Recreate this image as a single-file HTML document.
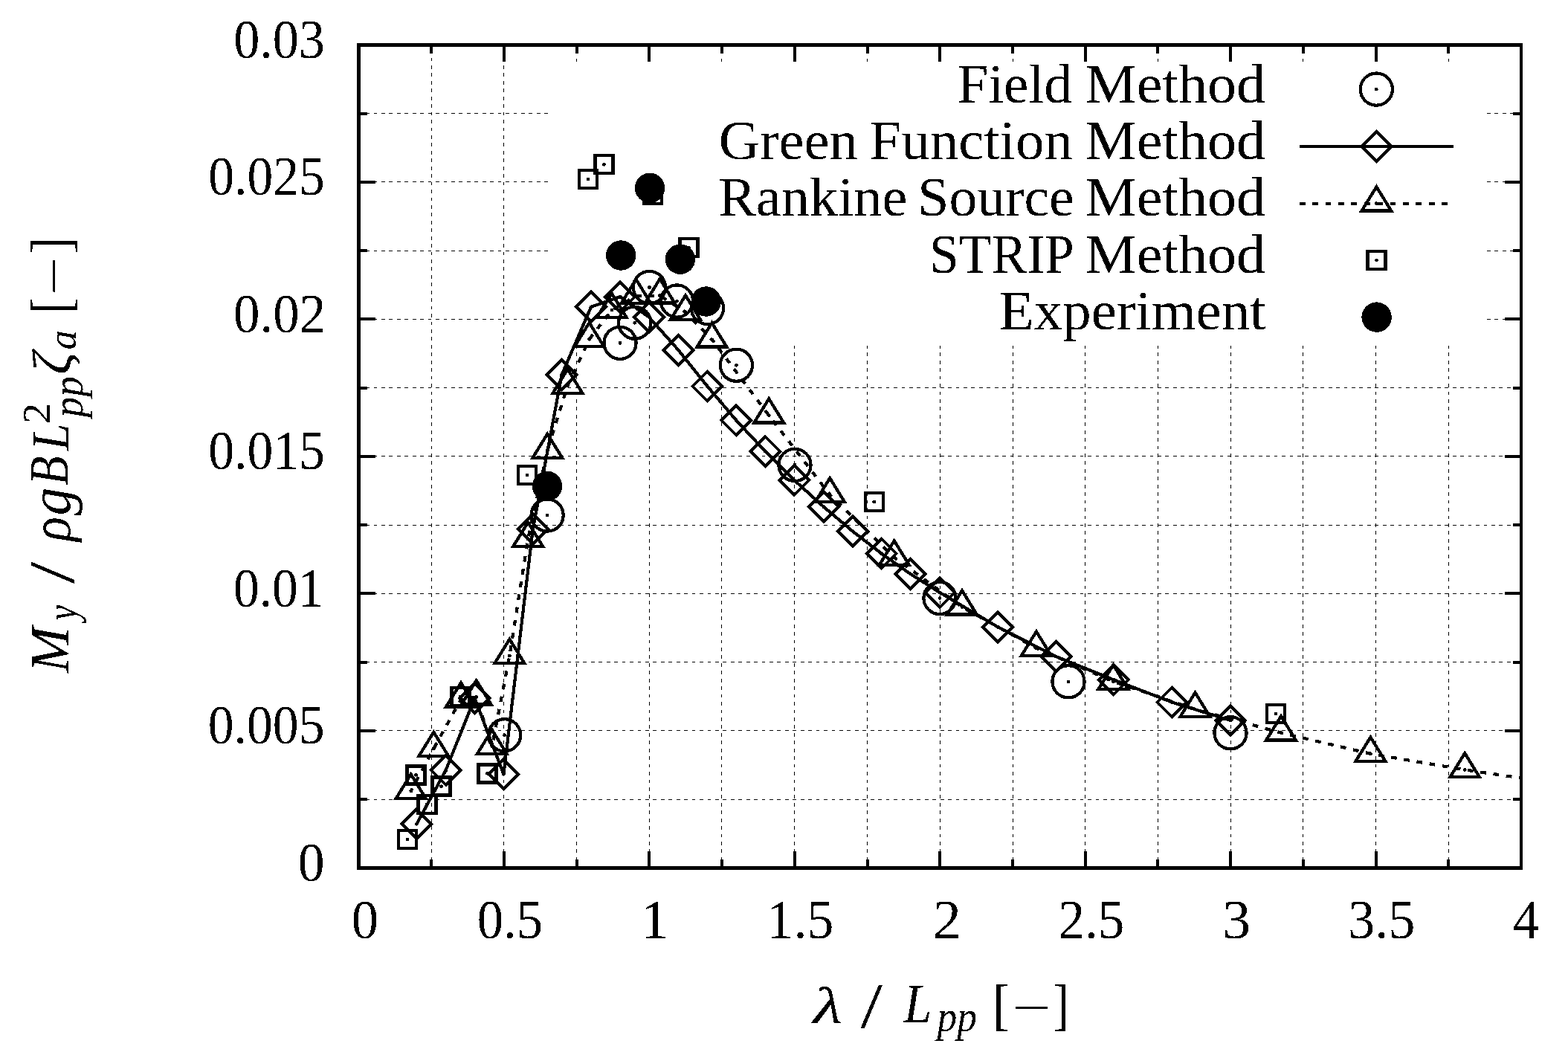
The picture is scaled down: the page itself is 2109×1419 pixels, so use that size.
<!DOCTYPE html><html><head><meta charset="utf-8"><title>Pitch moment RAO</title><style>html,body{margin:0;padding:0;background:#fff;overflow:hidden}svg{display:block}.s{fill:none;stroke:#000;stroke-width:4.2;stroke-miterlimit:10}svg circle,svg path.s,svg rect.s{shape-rendering:crispEdges}.t{font-family:"Liberation Serif",serif;fill:#000}</style></head><body>
<svg width="2109" height="1419" viewBox="0 0 2109 1419">
<rect width="2109" height="1419" fill="#fff"/>
<path d="M580.5 1167.3V60.4M677.5 1167.3V60.4M775.5 1167.3V465M873.5 1167.3V465M970.5 1167.3V465M1068.5 1167.3V465M1166.5 1167.3V465M1264.5 1167.3V465M1362.5 1167.3V465M1459.5 1167.3V465M1557.5 1167.3V465M1655.5 1167.3V465M1752.5 1167.3V465M1850.5 1167.3V465M1948.5 1167.3V465" stroke="#000" stroke-width="1" shape-rendering="crispEdges" stroke-dasharray="4.8 5.64" fill="none" stroke-dashoffset="0.84"/>
<path d="M775.5 83.3V77.9M873.5 83.3V77.9M970.5 83.3V77.9M1068.5 83.3V77.9M1166.5 83.3V77.9M1264.5 83.3V77.9M1362.5 83.3V77.9M1459.5 83.3V77.9M1557.5 83.3V77.9M1655.5 83.3V77.9M1752.5 83.3V77.9M1850.5 83.3V77.9M1948.5 83.3V77.9" stroke="#000" stroke-width="1" shape-rendering="crispEdges" stroke-dasharray="4.8 5.64" fill="none"/>
<path d="M482.4 1075.5H2046.1M482.4 982.5H2046.1M482.4 890.5H2046.1M482.4 798.5H2046.1M482.4 706.5H2046.1M482.4 613.5H2046.1M482.4 521.5H2046.1M482.4 429.5H737M482.4 337.5H737M482.4 244.5H737M482.4 152.5H737" stroke="#000" stroke-width="1" shape-rendering="crispEdges" stroke-dasharray="4.8 5.64" fill="none" stroke-dashoffset="0.69"/>
<path d="M2000 429.5H2046.1M2000 337.5H2046.1M2000 244.5H2046.1M2000 152.5H2046.1" stroke="#000" stroke-width="1" shape-rendering="crispEdges" stroke-dasharray="4.8 5.64" fill="none"/>
<path d="M480 58H2048V63H480ZM480 1165H2048V1170H480ZM480 58H485V1170H480ZM2044 58H2048V1170H2044ZM578 1156H582V1165H578ZM578 63H582V72H578ZM676 1145H680V1165H676ZM676 63H680V83H676ZM774 1156H778V1165H774ZM774 63H778V72H774ZM871 1145H875V1165H871ZM871 63H875V83H871ZM969 1156H973V1165H969ZM969 63H973V72H969ZM1067 1145H1071V1165H1067ZM1067 63H1071V83H1067ZM1165 1156H1169V1165H1165ZM1165 63H1169V72H1165ZM1262 1145H1266V1165H1262ZM1262 63H1266V83H1262ZM1360 1156H1364V1165H1360ZM1360 63H1364V72H1360ZM1458 1145H1462V1165H1458ZM1458 63H1462V83H1458ZM1555 1156H1559V1165H1555ZM1555 63H1559V72H1555ZM1653 1145H1657V1165H1653ZM1653 63H1657V83H1653ZM1751 1156H1755V1165H1751ZM1751 63H1755V72H1751ZM1849 1145H1853V1165H1849ZM1849 63H1853V83H1849ZM1946 1156H1950V1165H1946ZM1946 63H1950V72H1946ZM485 1073H494V1077H485ZM2035 1073H2044V1077H2035ZM485 981H505V985H485ZM2024 981H2044V985H2024ZM485 889H494V893H485ZM2035 889H2044V893H2035ZM485 796H505V800H485ZM2024 796H2044V800H2024ZM485 704H494V708H485ZM2035 704H2044V708H2035ZM485 612H505V616H485ZM2024 612H2044V616H2024ZM485 520H494V524H485ZM2035 520H2044V524H2035ZM485 427H505V431H485ZM2024 427H2044V431H2024ZM485 335H494V339H485ZM2035 335H2044V339H2035ZM485 243H505V247H485ZM2024 243H2044V247H2024ZM485 151H494V155H485ZM2035 151H2044V155H2035Z" fill="#000" shape-rendering="crispEdges"/>
<g>
<circle class="s" cx="678.6" cy="988.8" r="21.6"/><circle cx="678.6" cy="988.8" r="2.4"/>
<circle class="s" cx="736.1" cy="693" r="21.6"/><circle cx="736.1" cy="693" r="2.4"/>
<circle class="s" cx="834" cy="461.3" r="21.6"/><circle cx="834" cy="461.3" r="2.4"/>
<circle class="s" cx="853.7" cy="434.2" r="21.6"/><circle cx="853.7" cy="434.2" r="2.4"/>
<circle class="s" cx="873.5" cy="386.5" r="21.6"/><circle cx="873.5" cy="386.5" r="2.4"/>
<circle class="s" cx="910.5" cy="405" r="21.6"/><circle cx="910.5" cy="405" r="2.4"/>
<circle class="s" cx="951.5" cy="414.5" r="21.6"/><circle cx="951.5" cy="414.5" r="2.4"/>
<circle class="s" cx="990.4" cy="491.2" r="21.6"/><circle cx="990.4" cy="491.2" r="2.4"/>
<circle class="s" cx="1069" cy="625.4" r="21.6"/><circle cx="1069" cy="625.4" r="2.4"/>
<circle class="s" cx="1264" cy="804.5" r="21.6"/><circle cx="1264" cy="804.5" r="2.4"/>
<circle class="s" cx="1437" cy="916.8" r="21.6"/><circle cx="1437" cy="916.8" r="2.4"/>
<circle class="s" cx="1655" cy="985.8" r="21.6"/><circle cx="1655" cy="985.8" r="2.4"/>
<path class="s" stroke-linejoin="round" d="M560.4 1108.4 L599.7 1035.8 L638.5 939 L677.4 1041.4 L716.8 711.5 L755.6 504 L795 412.8 L833.9 399.2 L872.9 426.5 L912.5 470.9 L951.4 519.5 L990.2 565.3 L1029.3 607.2 L1068.3 645.8 L1107.9 681.7 L1146.7 714.5 L1185.6 744.5 L1224.6 772 L1264.1 797 L1342.2 843.4 L1420.4 883.1 L1497.8 914.3 L1576.4 944.5 L1655 969"/>
<path class="s" d="M560.4 1088.5L540.5 1108.4L560.4 1128.3L580.3 1108.4Z"/><circle cx="560.4" cy="1108.4" r="2.4"/>
<path class="s" d="M599.7 1015.9L579.8 1035.8L599.7 1055.7L619.6 1035.8Z"/><circle cx="599.7" cy="1035.8" r="2.4"/>
<path class="s" d="M638.5 919.1L618.6 939L638.5 958.9L658.4 939Z"/><circle cx="638.5" cy="939" r="2.4"/>
<path class="s" d="M677.4 1021.5L657.5 1041.4L677.4 1061.3L697.3 1041.4Z"/><circle cx="677.4" cy="1041.4" r="2.4"/>
<path class="s" d="M716.8 691.6L696.9 711.5L716.8 731.4L736.7 711.5Z"/><circle cx="716.8" cy="711.5" r="2.4"/>
<path class="s" d="M755.6 484.1L735.7 504L755.6 523.9L775.5 504Z"/><circle cx="755.6" cy="504" r="2.4"/>
<path class="s" d="M795 392.9L775.1 412.8L795 432.7L814.9 412.8Z"/><circle cx="795" cy="412.8" r="2.4"/>
<path class="s" d="M833.9 379.3L814 399.2L833.9 419.1L853.8 399.2Z"/><circle cx="833.9" cy="399.2" r="2.4"/>
<path class="s" d="M872.9 406.6L853 426.5L872.9 446.4L892.8 426.5Z"/><circle cx="872.9" cy="426.5" r="2.4"/>
<path class="s" d="M912.5 451L892.6 470.9L912.5 490.8L932.4 470.9Z"/><circle cx="912.5" cy="470.9" r="2.4"/>
<path class="s" d="M951.4 499.6L931.5 519.5L951.4 539.4L971.3 519.5Z"/><circle cx="951.4" cy="519.5" r="2.4"/>
<path class="s" d="M990.2 545.4L970.3 565.3L990.2 585.2L1010.1 565.3Z"/><circle cx="990.2" cy="565.3" r="2.4"/>
<path class="s" d="M1029.3 587.3L1009.4 607.2L1029.3 627.1L1049.2 607.2Z"/><circle cx="1029.3" cy="607.2" r="2.4"/>
<path class="s" d="M1068.3 625.9L1048.4 645.8L1068.3 665.7L1088.2 645.8Z"/><circle cx="1068.3" cy="645.8" r="2.4"/>
<path class="s" d="M1107.9 661.8L1088 681.7L1107.9 701.6L1127.8 681.7Z"/><circle cx="1107.9" cy="681.7" r="2.4"/>
<path class="s" d="M1146.7 694.6L1126.8 714.5L1146.7 734.4L1166.6 714.5Z"/><circle cx="1146.7" cy="714.5" r="2.4"/>
<path class="s" d="M1185.6 724.6L1165.7 744.5L1185.6 764.4L1205.5 744.5Z"/><circle cx="1185.6" cy="744.5" r="2.4"/>
<path class="s" d="M1224.6 752.1L1204.7 772L1224.6 791.9L1244.5 772Z"/><circle cx="1224.6" cy="772" r="2.4"/>
<path class="s" d="M1264.1 777.1L1244.2 797L1264.1 816.9L1284 797Z"/><circle cx="1264.1" cy="797" r="2.4"/>
<path class="s" d="M1342.2 823.5L1322.3 843.4L1342.2 863.3L1362.1 843.4Z"/><circle cx="1342.2" cy="843.4" r="2.4"/>
<path class="s" d="M1420.4 863.2L1400.5 883.1L1420.4 903L1440.3 883.1Z"/><circle cx="1420.4" cy="883.1" r="2.4"/>
<path class="s" d="M1497.8 894.4L1477.9 914.3L1497.8 934.2L1517.7 914.3Z"/><circle cx="1497.8" cy="914.3" r="2.4"/>
<path class="s" d="M1576.4 924.6L1556.5 944.5L1576.4 964.4L1596.3 944.5Z"/><circle cx="1576.4" cy="944.5" r="2.4"/>
<path class="s" d="M1655 949.1L1635.1 969L1655 988.9L1674.9 969Z"/><circle cx="1655" cy="969" r="2.4"/>
<path class="s" stroke-linejoin="round" stroke-dasharray="7.7 9.7" stroke-dashoffset="3.8" d="M552.7 1063.8 L583.3 1007 L620 940.6 L640.7 937.5 L661.8 1004 L685.4 882 L710.2 724.9 L736.3 605.9 L763.5 518.9 L792.6 456.4 L822.8 417 L855.5 398 L887.5 397.5 L922 419.7 L957.5 456.6 L1034.2 558.6 L1116.2 665.4 L1202.8 749.7 L1294 816.6 L1393.9 871.7 L1497.4 916.7 L1607.5 953.9 L1723 985.6 L1843.4 1013.8 L1970.2 1035.4 L2046.1 1046.5"/>
<path class="s" d="M552.7 1041.51L532.8 1073.75L572.6 1073.75Z"/><circle cx="552.7" cy="1063.8" r="2.4"/>
<path class="s" d="M583.3 984.71L563.4 1016.95L603.2 1016.95Z"/><circle cx="583.3" cy="1007" r="2.4"/>
<path class="s" d="M620 918.31L600.1 950.55L639.9 950.55Z"/><circle cx="620" cy="940.6" r="2.4"/>
<path class="s" d="M640.7 915.21L620.8 947.45L660.6 947.45Z"/><circle cx="640.7" cy="937.5" r="2.4"/>
<path class="s" d="M661.8 981.71L641.9 1013.95L681.7 1013.95Z"/><circle cx="661.8" cy="1004" r="2.4"/>
<path class="s" d="M685.4 859.71L665.5 891.95L705.3 891.95Z"/><circle cx="685.4" cy="882" r="2.4"/>
<path class="s" d="M710.2 702.61L690.3 734.85L730.1 734.85Z"/><circle cx="710.2" cy="724.9" r="2.4"/>
<path class="s" d="M736.3 583.61L716.4 615.85L756.2 615.85Z"/><circle cx="736.3" cy="605.9" r="2.4"/>
<path class="s" d="M763.5 496.61L743.6 528.85L783.4 528.85Z"/><circle cx="763.5" cy="518.9" r="2.4"/>
<path class="s" d="M792.6 434.11L772.7 466.35L812.5 466.35Z"/><circle cx="792.6" cy="456.4" r="2.4"/>
<path class="s" d="M822.8 394.71L802.9 426.95L842.7 426.95Z"/><circle cx="822.8" cy="417" r="2.4"/>
<path class="s" d="M855.5 375.71L835.6 407.95L875.4 407.95Z"/><circle cx="855.5" cy="398" r="2.4"/>
<path class="s" d="M887.5 375.21L867.6 407.45L907.4 407.45Z"/><circle cx="887.5" cy="397.5" r="2.4"/>
<path class="s" d="M922 397.41L902.1 429.65L941.9 429.65Z"/><circle cx="922" cy="419.7" r="2.4"/>
<path class="s" d="M957.5 434.31L937.6 466.55L977.4 466.55Z"/><circle cx="957.5" cy="456.6" r="2.4"/>
<path class="s" d="M1034.2 536.31L1014.3 568.55L1054.1 568.55Z"/><circle cx="1034.2" cy="558.6" r="2.4"/>
<path class="s" d="M1116.2 643.11L1096.3 675.35L1136.1 675.35Z"/><circle cx="1116.2" cy="665.4" r="2.4"/>
<path class="s" d="M1202.8 727.41L1182.9 759.65L1222.7 759.65Z"/><circle cx="1202.8" cy="749.7" r="2.4"/>
<path class="s" d="M1294 794.31L1274.1 826.55L1313.9 826.55Z"/><circle cx="1294" cy="816.6" r="2.4"/>
<path class="s" d="M1393.9 849.41L1374 881.65L1413.8 881.65Z"/><circle cx="1393.9" cy="871.7" r="2.4"/>
<path class="s" d="M1497.4 894.41L1477.5 926.65L1517.3 926.65Z"/><circle cx="1497.4" cy="916.7" r="2.4"/>
<path class="s" d="M1607.5 931.61L1587.6 963.85L1627.4 963.85Z"/><circle cx="1607.5" cy="953.9" r="2.4"/>
<path class="s" d="M1723 963.31L1703.1 995.55L1742.9 995.55Z"/><circle cx="1723" cy="985.6" r="2.4"/>
<path class="s" d="M1843.4 991.51L1823.5 1023.75L1863.3 1023.75Z"/><circle cx="1843.4" cy="1013.8" r="2.4"/>
<path class="s" d="M1970.2 1013.11L1950.3 1045.35L1990.1 1045.35Z"/><circle cx="1970.2" cy="1035.4" r="2.4"/>
<rect class="s" x="536" y="1117" width="24" height="24"/><circle cx="548" cy="1129" r="2.4"/>
<rect class="s" x="562.4" y="1070" width="24" height="24"/><circle cx="574.4" cy="1082" r="2.4"/>
<rect class="s" x="581.5" y="1045.6" width="24" height="24"/><circle cx="593.5" cy="1057.6" r="2.4"/>
<rect class="s" x="547.5" y="1030.4" width="24" height="24"/><circle cx="559.5" cy="1042.4" r="2.4"/>
<rect class="s" x="643.5" y="1028.4" width="24" height="24"/><circle cx="655.5" cy="1040.4" r="2.4"/>
<rect class="s" x="607.4" y="925" width="24" height="24"/><circle cx="619.4" cy="937" r="2.4"/>
<rect class="s" x="697" y="627" width="24" height="24"/><circle cx="709" cy="639" r="2.4"/>
<rect class="s" x="778.9" y="228.9" width="24" height="24"/><circle cx="790.9" cy="240.9" r="2.4"/>
<rect class="s" x="800.4" y="209.3" width="24" height="24"/><circle cx="812.4" cy="221.3" r="2.4"/>
<rect class="s" x="865.9" y="249.8" width="24" height="24"/><circle cx="877.9" cy="261.8" r="2.4"/>
<rect class="s" x="914.5" y="320.9" width="24" height="24"/><circle cx="926.5" cy="332.9" r="2.4"/>
<rect class="s" x="1163.7" y="663" width="24" height="24"/><circle cx="1175.7" cy="675" r="2.4"/>
<rect class="s" x="1704" y="948" width="24" height="24"/><circle cx="1716" cy="960" r="2.4"/>
<circle cx="736" cy="653.8" r="20.2"/>
<circle cx="835.2" cy="343.5" r="20.2"/>
<circle cx="874.1" cy="252.8" r="20.2"/>
<circle cx="914.9" cy="348.7" r="20.2"/>
<circle cx="949.7" cy="405.5" r="20.2"/>
</g>
<circle class="s" cx="1851.3" cy="120.1" r="21.6"/><circle cx="1851.3" cy="120.1" r="2.4"/>
<path class="s" d="M1747.8 196.9H1954.8"/>
<path class="s" d="M1851.4 177L1831.5 196.9L1851.4 216.8L1871.3 196.9Z"/><circle cx="1851.4" cy="196.9" r="2.4"/>
<path class="s" stroke-dasharray="7.7 9.7" d="M1747.8 273.6H1952"/>
<path class="s" d="M1851.4 251.31L1831.5 283.55L1871.3 283.55Z"/><circle cx="1851.4" cy="273.6" r="2.4"/>
<rect class="s" x="1839.5" y="338" width="24" height="24"/><circle cx="1851.5" cy="350" r="2.4"/>
<circle cx="1851.6" cy="426.6" r="20.2"/>
<defs><filter id="bw" color-interpolation-filters="sRGB"><feComponentTransfer><feFuncA type="discrete" tableValues="0 1"/></feComponentTransfer></filter></defs>
<g filter="url(#bw)">
<text class="t" transform="translate(1287.54 137.50) scale(1.0239 1.000)" font-size="73.30">Field</text>
<text class="t" transform="translate(1459.25 137.50) scale(1.0652 1.000)" font-size="73.30">Method</text>
<text class="t" transform="translate(966.76 213.80) scale(1.0455 1.000)" font-size="73.30">Green</text>
<text class="t" transform="translate(1169.49 213.80) scale(1.0489 1.000)" font-size="73.30">Function</text>
<text class="t" transform="translate(1459.25 213.80) scale(1.0652 1.000)" font-size="73.30">Method</text>
<text class="t" transform="translate(965.90 290.10) scale(1.0416 1.000)" font-size="73.30">Rankine</text>
<text class="t" transform="translate(1234.23 290.10) scale(1.0342 1.000)" font-size="73.30">Source</text>
<text class="t" transform="translate(1459.25 290.10) scale(1.0652 1.000)" font-size="73.30">Method</text>
<text class="t" transform="translate(1250.02 367.00) scale(0.9757 1.000)" font-size="73.30">STRIP</text>
<text class="t" transform="translate(1459.25 367.00) scale(1.0652 1.000)" font-size="73.30">Method</text>
<text class="t" transform="translate(1343.79 442.90) scale(1.0489 1.000)" font-size="73.30">Experiment</text>
<text class="t" transform="translate(400.77 1184.60) scale(0.9826 1.000)" font-size="73.00">0</text>
<text class="t" transform="translate(279.74 1000.12) scale(0.9551 1.000)" font-size="73.00">0.005</text>
<text class="t" transform="translate(313.95 815.63) scale(0.9520 1.000)" font-size="73.00">0.01</text>
<text class="t" transform="translate(280.15 631.15) scale(0.9545 1.000)" font-size="73.00">0.015</text>
<text class="t" transform="translate(314.10 446.67) scale(0.9707 1.000)" font-size="73.00">0.02</text>
<text class="t" transform="translate(280.25 262.18) scale(0.9532 1.000)" font-size="73.00">0.025</text>
<text class="t" transform="translate(314.13 77.70) scale(0.9614 1.000)" font-size="73.00">0.03</text>
<text class="t" transform="translate(472.83 1262.20) scale(0.9955 1.000)" font-size="73.00">0</text>
<text class="t" transform="translate(641.70 1262.20) scale(0.9694 1.000)" font-size="73.00">0.5</text>
<text class="t" transform="translate(861.88 1262.20) scale(1.0156 1.000)" font-size="73.00">1</text>
<text class="t" transform="translate(1031.59 1262.20) scale(0.9831 1.000)" font-size="73.00">1.5</text>
<text class="t" transform="translate(1254.62 1262.20) scale(1.0525 1.000)" font-size="73.00">2</text>
<text class="t" transform="translate(1423.47 1262.20) scale(0.9743 1.000)" font-size="73.00">2.5</text>
<text class="t" transform="translate(1643.95 1262.20) scale(1.0446 1.000)" font-size="73.00">3</text>
<text class="t" transform="translate(1812.94 1262.20) scale(0.9917 1.000)" font-size="73.00">3.5</text>
<text class="t" transform="translate(2035.11 1262.20) scale(0.9754 1.000)" font-size="73.00">4</text>
<text class="t" transform="translate(1093.53 1375.80) scale(1.3100 1.000)" font-size="69.88" font-style="italic">λ</text>
<text class="t" transform="translate(1157.40 1382.15) scale(1.2163 1.000)" font-size="87.00">/</text>
<text class="t" transform="translate(1215.79 1374.90) scale(0.9244 1.000)" font-size="73.15" font-style="italic">L</text>
<text class="t" transform="translate(1260.53 1386.57) scale(0.8996 1.000)" font-size="59.35" font-style="italic">pp</text>
<text class="t" transform="translate(1335.40 1377.49) scale(0.8564 1.000)" font-size="77.09">[</text>
<text class="t" transform="translate(1360.88 1374.14) scale(1.2717 0.750)" font-size="73.00">−</text>
<text class="t" transform="translate(1416.73 1377.49) scale(0.8157 1.000)" font-size="77.09">]</text>
<g transform="translate(92.1 905.6) rotate(-90)">
<text class="t" transform="translate(0.87 0.00) scale(1.0061 1.000)" font-size="73.76" font-style="italic">M</text>
<text class="t" transform="translate(71.01 11.07) scale(0.7994 1.000)" font-size="58.54" font-style="italic">y</text>
<text class="t" transform="translate(120.50 7.05) scale(1.2246 1.000)" font-size="87.00">/</text>
<text class="t" transform="translate(177.44 2.48) scale(0.8950 1.000)" font-size="76.67" font-style="italic">ρ</text>
<text class="t" transform="translate(212.26 2.20) scale(0.9683 1.000)" font-size="77.97" font-style="italic">g</text>
<text class="t" transform="translate(253.10 -0.51) scale(0.8758 1.000)" font-size="73.28" font-style="italic">B</text>
<text class="t" transform="translate(299.77 -0.30) scale(0.9023 1.000)" font-size="72.39" font-style="italic">L</text>
<text class="t" transform="translate(335.41 -25.00) scale(1.0532 1.000)" font-size="53.77">2</text>
<text class="t" transform="translate(344.33 19.10) scale(0.9313 1.000)" font-size="59.20" font-style="italic">pp</text>
<text class="t" transform="translate(401.86 2.73) scale(1.0171 1.000)" font-size="74.31" font-style="italic">ζ</text>
<text class="t" transform="translate(435.14 10.13) scale(0.9417 1.000)" font-size="55.72" font-style="italic">a</text>
<text class="t" transform="translate(483.53 2.49) scale(0.8506 1.000)" font-size="77.09">[</text>
<text class="t" transform="translate(563.65 2.49) scale(0.9147 1.000)" font-size="77.09">]</text>
<text class="t" transform="translate(508.62 -1.16) scale(1.2600 0.750)" font-size="73.00">−</text>
</g>
</g>
</svg></body></html>
